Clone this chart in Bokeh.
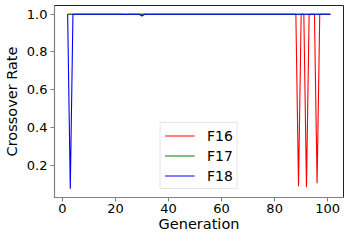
from bokeh.plotting import figure
from bokeh.models import ColumnDataSource, Range1d, FixedTicker, Legend, LegendItem
from bokeh.embed import file_html
from bokeh.resources import INLINE

generation = list(range(2, 102))

F16 = [
    1.0, 1.0, 1.0, 1.0, 1.0, 1.0, 1.0, 1.0, 1.0, 1.0,
    1.0, 1.0, 1.0, 1.0, 1.0, 1.0, 1.0, 1.0, 1.0, 1.0,
    1.0, 1.0, 1.0, 1.0, 1.0, 1.0, 1.0, 1.0, 1.0, 1.0,
    1.0, 1.0, 1.0, 1.0, 1.0, 1.0, 1.0, 1.0, 1.0, 1.0,
    1.0, 1.0, 1.0, 1.0, 1.0, 1.0, 1.0, 1.0, 1.0, 1.0,
    1.0, 1.0, 1.0, 1.0, 1.0, 1.0, 1.0, 1.0, 1.0, 1.0,
    1.0, 1.0, 1.0, 1.0, 1.0, 1.0, 1.0, 1.0, 1.0, 1.0,
    1.0, 1.0, 1.0, 1.0, 1.0, 1.0, 1.0, 1.0, 1.0, 1.0,
    1.0, 1.0, 1.0, 1.0, 1.0, 1.0, 1.0, 0.088, 1.0, 1.0,
    0.083, 1.0, 1.0, 1.0, 0.105, 1.0, 1.0, 1.0, 1.0, 1.0,
]

F17 = [
    1.0, 1.0, 1.0, 1.0, 1.0, 1.0, 1.0, 1.0, 1.0, 1.0,
    1.0, 1.0, 1.0, 1.0, 1.0, 1.0, 1.0, 1.0, 1.0, 1.0,
    1.0, 1.0, 1.0, 1.0, 1.0, 1.0, 1.0, 1.0, 1.0, 1.0,
    1.0, 1.0, 1.0, 1.0, 1.0, 1.0, 1.0, 1.0, 1.0, 1.0,
    1.0, 1.0, 1.0, 1.0, 1.0, 1.0, 1.0, 1.0, 1.0, 1.0,
    1.0, 1.0, 1.0, 1.0, 1.0, 1.0, 1.0, 1.0, 1.0, 1.0,
    1.0, 1.0, 1.0, 1.0, 1.0, 1.0, 1.0, 1.0, 1.0, 1.0,
    1.0, 1.0, 1.0, 1.0, 1.0, 1.0, 1.0, 1.0, 1.0, 1.0,
    1.0, 1.0, 1.0, 1.0, 1.0, 1.0, 1.0, 1.0, 1.0, 1.0,
    1.0, 1.0, 1.0, 1.0, 1.0, 1.0, 1.0, 1.0, 1.0, 1.0,
]

F18 = [
    1.0, 0.075, 1.0, 1.0, 1.0, 1.0, 1.0, 1.0, 1.0, 1.0,
    1.0, 1.0, 1.0, 1.0, 1.0, 1.0, 1.0, 1.0, 1.0, 1.0,
    1.0, 1.0, 0.998, 1.0, 1.0, 1.0, 1.0, 1.0, 0.99, 1.0,
    1.0, 1.0, 1.0, 1.0, 1.0, 1.0, 1.0, 1.0, 1.0, 1.0,
    1.0, 1.0, 1.0, 1.0, 1.0, 1.0, 1.0, 1.0, 1.0, 1.0,
    1.0, 1.0, 1.0, 1.0, 1.0, 1.0, 1.0, 1.0, 1.0, 1.0,
    1.0, 1.0, 1.0, 1.0, 1.0, 1.0, 1.0, 1.0, 1.0, 1.0,
    1.0, 1.0, 1.0, 1.0, 1.0, 1.0, 1.0, 1.0, 1.0, 1.0,
    1.0, 1.0, 1.0, 1.0, 1.0, 1.0, 1.0, 1.0, 1.0, 1.0,
    1.0, 1.0, 1.0, 1.0, 1.0, 1.0, 1.0, 1.0, 1.0, 1.0,
]

series_names = ["F16", "F17", "F18"]
series_colors = ["#ff0000", "#008000", "#0000ff"]
x_ticks = [0, 20, 40, 60, 80, 100]
y_ticks = [0.2, 0.4, 0.6, 0.8, 1.0]
y_tick_labels = {0.2: "0.2", 0.4: "0.4", 0.6: "0.6", 0.8: "0.8", 1.0: "1.0"}

source = ColumnDataSource(dict(gen=generation, F16=F16, F17=F17, F18=F18))

p = figure(width=344, height=234, output_backend="svg", toolbar_location=None,
           x_range=Range1d(-2.95, 105.95), y_range=Range1d(0.029, 1.046),
           min_border_left=0, min_border_right=1, min_border_top=5, min_border_bottom=0)
p.background_fill_color = "white"
p.border_fill_color = "white"
p.outline_line_color = "#222222"
p.outline_line_width = 1
p.xgrid.visible = False
p.ygrid.visible = False

items = []
for name, color in zip(series_names, series_colors):
    r = p.line("gen", name, source=source, line_color=color, line_width=1.1)
    items.append(LegendItem(label=name, renderers=[r]))

font = "DejaVu Sans"
for ax in (p.xaxis[0], p.yaxis[0]):
    ax.axis_line_color = "#808080"
    ax.axis_line_width = 1.2
    ax.major_tick_line_color = "#808080"
    ax.major_tick_out = 4
    ax.major_tick_in = 0
    ax.minor_tick_line_color = None
    ax.major_label_text_font = font
    ax.major_label_text_font_size = "13px"
    ax.major_label_text_color = "black"
    ax.axis_label_text_font = font
    ax.axis_label_text_font_size = "14.5px"
    ax.axis_label_text_font_style = "normal"
    ax.axis_label_text_color = "black"

p.xaxis.major_label_standoff = 2
p.xaxis.axis_label_standoff = 0
p.yaxis.major_label_standoff = 3
p.yaxis.axis_label_standoff = 4

p.xaxis.ticker = FixedTicker(ticks=x_ticks)
p.yaxis.ticker = FixedTicker(ticks=y_ticks)
p.yaxis.major_label_overrides = y_tick_labels
p.xaxis.axis_label = "Generation"
p.yaxis.axis_label = "Crossover Rate"

legend = Legend(items=items, location="bottom_center")
legend.label_text_font = font
legend.label_text_font_size = "14px"
legend.label_text_color = "black"
legend.glyph_width = 30
legend.glyph_height = 17
legend.label_height = 17
legend.label_standoff = 13
legend.spacing = 3
legend.padding = 4
legend.margin = 8
legend.border_line_color = "#cccccc"
legend.border_line_width = 1
legend.background_fill_alpha = 0.85
p.add_layout(legend)

open("out.html", "w").write(file_html(p, INLINE))
